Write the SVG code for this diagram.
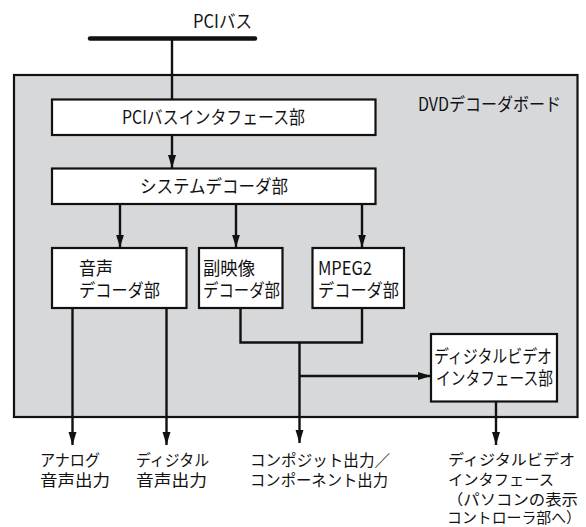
<svg xmlns="http://www.w3.org/2000/svg" width="586" height="527" viewBox="0 0 586 527">
<style>
text{font-family:"Noto Sans CJK JP","Noto Sans",sans-serif;font-size:18px;fill:#111111}
.out{font-size:16px}
.outr{font-size:15px}
.box{fill:#ffffff;stroke:#111111;stroke-width:2.2}
.board{fill:#d7d8da;stroke:#111111;stroke-width:2.2}
.ln{fill:none;stroke:#111111;stroke-width:2.4}
</style>
<defs>
<marker id="ah" markerUnits="userSpaceOnUse" markerWidth="14" markerHeight="10" refX="13" refY="4" orient="auto">
<path d="M0,0 L13,4 L0,8 z" fill="#111111"/>
</marker>
</defs>
<g id="pci-bus">
<text x="193" y="28" textLength="59" lengthAdjust="spacingAndGlyphs">PCIバス</text>
<line x1="90" y1="38.5" x2="255" y2="38.5" stroke="#111111" stroke-width="4.5" stroke-linecap="round"/>
</g>
<g id="board">
<rect class="board" x="14" y="75" width="563.5" height="342"/>
<text x="418" y="111" textLength="143" lengthAdjust="spacingAndGlyphs">DVDデコーダボード</text>
</g>
<g id="pci-if">
<rect class="box" x="52" y="99.5" width="323.5" height="35.5"/>
<text x="122" y="124" textLength="183" lengthAdjust="spacingAndGlyphs">PCIバスインタフェース部</text>
</g>
<g id="system-decoder">
<rect class="box" x="52" y="168.5" width="323.5" height="35.5"/>
<text x="140" y="192.5" textLength="148" lengthAdjust="spacingAndGlyphs">システムデコーダ部</text>
</g>
<g id="audio-decoder">
<rect class="box" x="52" y="248" width="134.5" height="60"/>
<text x="79" y="274.5" textLength="34" lengthAdjust="spacingAndGlyphs">音声</text>
<text x="79" y="296.5" textLength="81" lengthAdjust="spacingAndGlyphs">デコーダ部</text>
</g>
<g id="subpicture-decoder">
<rect class="box" x="199" y="248" width="83.5" height="60"/>
<text x="203" y="274.5" textLength="52" lengthAdjust="spacingAndGlyphs">副映像</text>
<text x="203" y="296.5" textLength="77" lengthAdjust="spacingAndGlyphs">デコーダ部</text>
</g>
<g id="mpeg2-decoder">
<rect class="box" x="312.5" y="248" width="91.5" height="60"/>
<text x="318" y="274.5" textLength="54" lengthAdjust="spacingAndGlyphs">MPEG2</text>
<text x="318" y="296.5" textLength="81" lengthAdjust="spacingAndGlyphs">デコーダ部</text>
</g>
<g id="dv-if">
<rect class="box" x="431" y="334" width="126" height="67.5"/>
<text x="434" y="363" textLength="118" lengthAdjust="spacingAndGlyphs">ディジタルビデオ</text>
<text x="436" y="384.5" textLength="117" lengthAdjust="spacingAndGlyphs">インタフェース部</text>
</g>
<g id="outputs">
<text class="out" x="40" y="466" textLength="60" lengthAdjust="spacingAndGlyphs">アナログ</text>
<text class="out" x="40" y="486" textLength="70" lengthAdjust="spacingAndGlyphs">音声出力</text>
<text class="out" x="136" y="466" textLength="73" lengthAdjust="spacingAndGlyphs">ディジタル</text>
<text class="out" x="136" y="486" textLength="71" lengthAdjust="spacingAndGlyphs">音声出力</text>
<text class="out" x="250" y="466" textLength="140" lengthAdjust="spacingAndGlyphs">コンポジット出力／</text>
<text class="out" x="250" y="486" textLength="138" lengthAdjust="spacingAndGlyphs">コンポーネント出力</text>
<text class="outr" x="448" y="465" textLength="127" lengthAdjust="spacingAndGlyphs">ディジタルビデオ</text>
<text class="outr" x="448" y="485" textLength="106" lengthAdjust="spacingAndGlyphs">インタフェース</text>
<text class="outr" x="447" y="504.5" textLength="131" lengthAdjust="spacingAndGlyphs">（パソコンの表示</text>
<text class="outr" x="447" y="523" textLength="134" lengthAdjust="spacingAndGlyphs">コントローラ部へ）</text>
</g>
<g id="connectors">
<line class="ln" x1="172" y1="39" x2="172" y2="99.5"/>
<line class="ln" x1="172" y1="135" x2="172" y2="168" marker-end="url(#ah)"/>
<line class="ln" x1="120" y1="204" x2="120" y2="247.5" marker-end="url(#ah)"/>
<line class="ln" x1="236" y1="204" x2="236" y2="247.5" marker-end="url(#ah)"/>
<line class="ln" x1="362" y1="204" x2="362" y2="247.5" marker-end="url(#ah)"/>
<line class="ln" x1="72.5" y1="308" x2="72.5" y2="445" marker-end="url(#ah)"/>
<line class="ln" x1="166.5" y1="308" x2="166.5" y2="445" marker-end="url(#ah)"/>
<polyline class="ln" points="240.5,308 240.5,342.5 362,342.5 362,308"/>
<line class="ln" x1="299.5" y1="342.5" x2="299.5" y2="443" marker-end="url(#ah)"/>
<line class="ln" x1="299.5" y1="376" x2="431" y2="376" marker-end="url(#ah)"/>
<line class="ln" x1="496" y1="401.5" x2="496" y2="445" marker-end="url(#ah)"/>
</g>
</svg>
